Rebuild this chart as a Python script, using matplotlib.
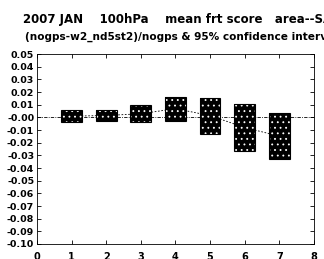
import numpy as np
import matplotlib
matplotlib.use("Agg")
import matplotlib.pyplot as plt

# forecast hour index and 95% confidence bounds of (nogps-w2_nd5st2)/nogps
xpos = [1, 2, 3, 4, 5, 6, 7]
upper = [0.006, 0.006, 0.0098, 0.0165, 0.0157, 0.0104, 0.0032]
lower = [-0.004, -0.003, -0.004, -0.0027, -0.0128, -0.0264, -0.0328]
yticks = np.round(np.arange(-0.10, 0.0501, 0.01), 2)
xticks = [0, 1, 2, 3, 4, 5, 6, 7, 8]

plt.rcParams["font.family"] = ["DejaVu Sans"]

fig = plt.figure(figsize=(3.24, 2.59), dpi=100)
ax = fig.add_axes([0.114, 0.058, 0.855, 0.733])

up = np.array(upper)
lo = np.array(lower)
mid = (up + lo) / 2

# zero reference + mean line
ax.plot([0, 8], [0, 0], color="black", lw=0.6, ls=(0, (4, 1.5, 1, 1.5)), zorder=1)
ax.plot(xpos, mid, color="black", lw=0.6, ls=(0, (2, 2)), zorder=1)

plt.rcParams["hatch.linewidth"] = 0.6
ax.bar(xpos, up - lo, bottom=lo, width=0.6, color="black", edgecolor="white",
       hatch="...", lw=0, zorder=2)
ax.bar(xpos, up - lo, bottom=lo, width=0.6, fill=False, edgecolor="black",
       lw=0.8, zorder=3)

ax.set_xlim(0, 8)
ax.set_ylim(-0.10, 0.05)
ax.set_xticks(xticks)
ax.set_xticklabels([str(x) for x in xticks], fontsize=7, fontweight="bold")
ax.set_yticks(yticks)
ax.set_yticklabels([f"{v:.2f}" for v in yticks], fontsize=6.8, fontweight="bold")
ax.tick_params(direction="in", length=3, width=0.6, top=True, right=True, pad=2)
ax.tick_params(axis="x", pad=6)
for s in ax.spines.values():
    s.set_linewidth(0.6)

fig.text(0.071, 0.91, "2007 JAN    100hPa    mean frt score   area--SAM",
         fontsize=8.5, fontweight="bold", ha="left", va="baseline")
fig.text(0.077, 0.845, "(nogps-w2_nd5st2)/nogps & 95% confidence interval",
         fontsize=7.6, fontweight="bold", ha="left", va="baseline")

fig.savefig("out.png", dpi=100)
